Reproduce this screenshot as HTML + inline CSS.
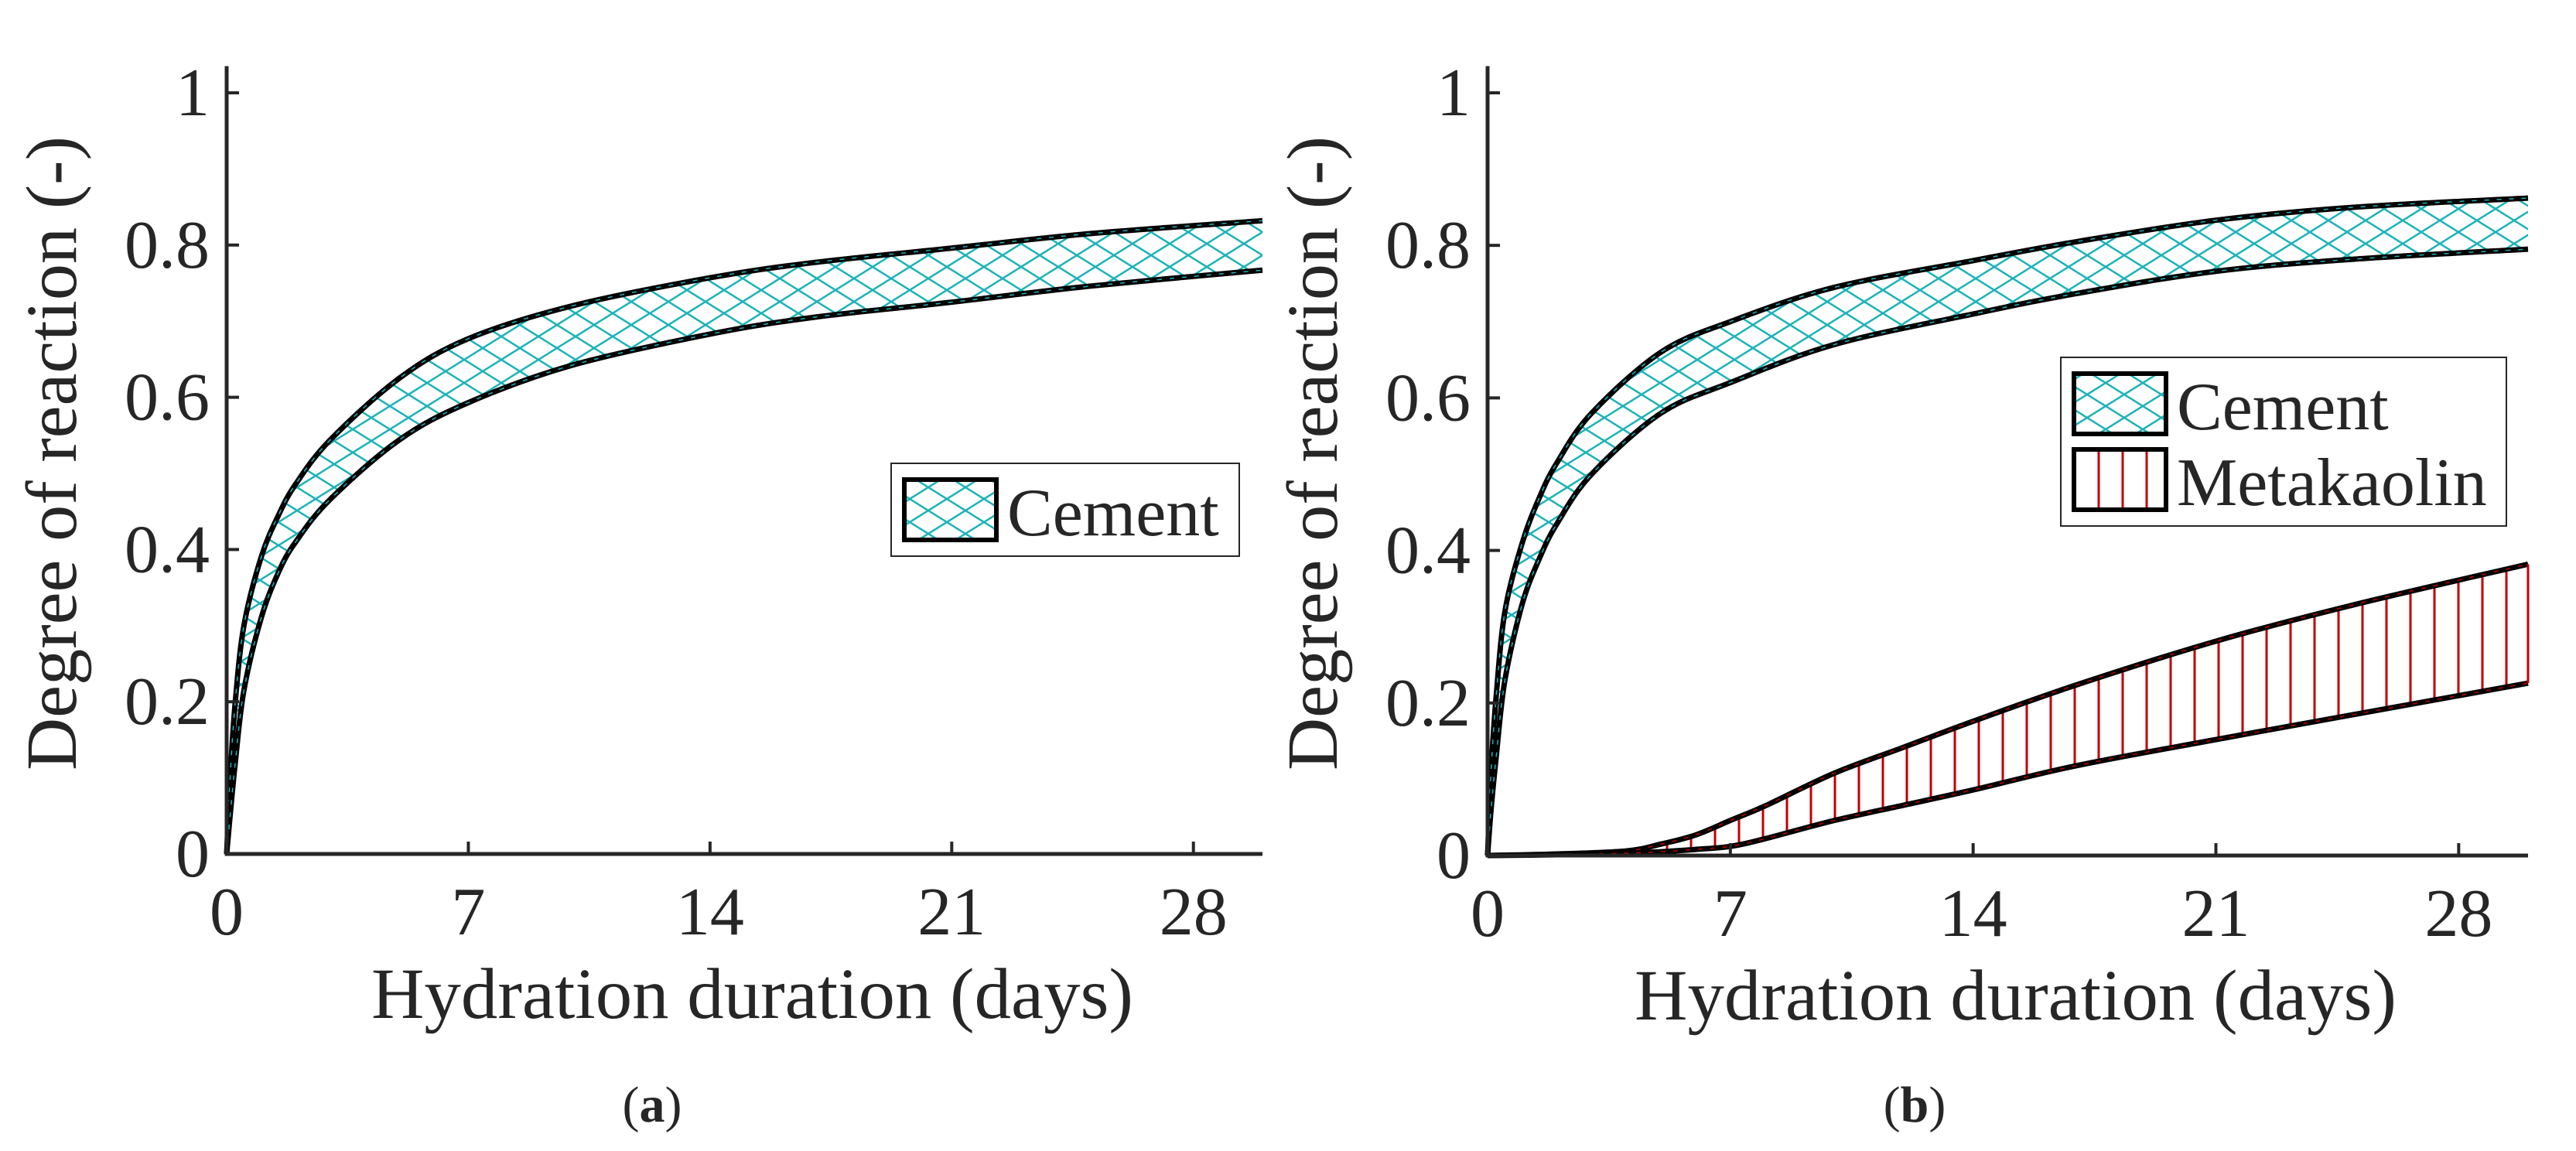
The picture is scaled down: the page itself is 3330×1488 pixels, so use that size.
<!DOCTYPE html>
<html><head><meta charset="utf-8"><style>
html,body{margin:0;padding:0;background:#fff}
svg{display:block}
text{font-family:"Liberation Serif","Times New Roman",serif;fill:#262626}
</style></head><body>
<svg id="chart" width="3330" height="1488" viewBox="0 0 3330 1488" xmlns="http://www.w3.org/2000/svg" font-family="Liberation Serif, Times New Roman, serif">
<defs>
<pattern id="cross" patternUnits="userSpaceOnUse" width="48" height="30">
<path d="M0,0L48,30M0,30L48,0" stroke="#1cb3b8" stroke-width="2.5" fill="none"/>
</pattern>
<pattern id="cross2" patternUnits="userSpaceOnUse" width="48" height="30" x="10">
<path d="M0,0L48,30M0,30L48,0" stroke="#1cb3b8" stroke-width="2.5" fill="none"/>
</pattern>
<pattern id="vert" patternUnits="userSpaceOnUse" width="31" height="40" x="1923">
<path d="M15,0L15,40" stroke="#c00000" stroke-width="3" fill="none"/>
</pattern>
</defs>
<g id="panelA"></g>
<g id="panelB"></g>
</svg>
<script>
const xTicks = [0, 7, 14, 21, 28];
const yTicks = [0, 0.2, 0.4, 0.6, 0.8, 1];
const yTickLabels = ["0", "0.2", "0.4", "0.6", "0.8", "1"];
const daysCem = [0, 0.1, 0.25, 0.5, 1, 1.5, 2, 3, 5, 7, 10, 14, 17, 21, 25, 30];
const cemAUpper = [0, 0.1, 0.2, 0.30, 0.39, 0.445, 0.486, 0.544, 0.625, 0.677, 0.72, 0.757, 0.777, 0.796, 0.815, 0.832];
const cemALower = [0, 0.05, 0.12, 0.215, 0.31, 0.37, 0.41, 0.466, 0.544, 0.593, 0.642, 0.683, 0.705, 0.725, 0.746, 0.767];
const cemBUpper = [0, 0.11, 0.21, 0.32, 0.41, 0.47, 0.515, 0.58, 0.66, 0.70, 0.745, 0.78, 0.805, 0.833, 0.85, 0.862];
const cemBLower = [0, 0.06, 0.13, 0.23, 0.33, 0.39, 0.435, 0.50, 0.58, 0.62, 0.67, 0.71, 0.737, 0.766, 0.782, 0.795];
const daysMK = [0, 2, 4, 5, 6, 7, 8, 10, 12, 14, 17, 21, 25, 30];
const mkUpper = [0, 0.002, 0.006, 0.015, 0.027, 0.046, 0.065, 0.108, 0.142, 0.176, 0.224, 0.281, 0.329, 0.382];
const mkLower = [0, 0.001, 0.003, 0.005, 0.008, 0.012, 0.022, 0.046, 0.066, 0.086, 0.118, 0.152, 0.185, 0.226];

const NS = "http://www.w3.org/2000/svg";
function mk(tag, attrs, parent) {
  const e = document.createElementNS(NS, tag);
  for (const k in attrs) e.setAttribute(k, attrs[k]);
  parent.appendChild(e);
  return e;
}
function smooth(pts) {
  let d = "M" + pts[0][0] + "," + pts[0][1];
  for (let i = 0; i < pts.length - 1; i++) {
    const p0 = pts[Math.max(0, i - 1)], p1 = pts[i], p2 = pts[i + 1], p3 = pts[Math.min(pts.length - 1, i + 2)];
    const c1 = [p1[0] + (p2[0] - p0[0]) / 6, p1[1] + (p2[1] - p0[1]) / 6];
    const c2 = [p2[0] - (p3[0] - p1[0]) / 6, p2[1] - (p3[1] - p1[1]) / 6];
    d += "C" + c1[0] + "," + c1[1] + " " + c2[0] + "," + c2[1] + " " + p2[0] + "," + p2[1];
  }
  return d;
}
function panel(g, cfg) {
  const sx = v => cfg.x0 + (v / 30) * (cfg.x1 - cfg.x0);
  const sy = v => cfg.y0 - v * cfg.ky;
  function band(xs, up, lo, fill, col, nm) {
    const pu = xs.map((d, i) => [sx(d), sy(up[i])]);
    const pl = xs.map((d, i) => [sx(d), sy(lo[i])]);
    const du = smooth(pu), dl = smooth(pl);
    const dlRev = smooth(pl.slice().reverse());
    const area = mk("path", {d: du + "L" + dlRev.slice(1) + "Z", fill: fill, stroke: "none"}, g);
    
    
    [du, dl].forEach((dd, k) => {
      const l = mk("path", {d: dd, fill: "none", stroke: "#000", "stroke-width": 7}, g);
      
      
      const l2 = mk("path", {d: dd, fill: "none", stroke: col, "stroke-width": 1.5, "stroke-dasharray": "6 10"}, g);
      
      
    });
    if (fill.indexOf("vert") >= 0) {
      const e = mk("path", {d: "M" + sx(30) + "," + sy(up[up.length - 1]) + "L" + sx(30) + "," + sy(lo[lo.length - 1]), stroke: col, "stroke-width": 3}, g);
      
      
    }
  }
  cfg.bands.forEach(b => band(b.xs, b.up, b.lo, b.fill, b.col, b.nm));
  const ax = mk("path", {d: "M" + cfg.x0 + "," + (cfg.y0 - 1.035 * cfg.ky) + "L" + cfg.x0 + "," + cfg.y0 + "L" + cfg.x1 + "," + cfg.y0, fill: "none", stroke: "#262626", "stroke-width": 5}, g);
  
  
  xTicks.forEach(t => {
    const tk = mk("path", {d: "M" + sx(t) + "," + cfg.y0 + "v-16", stroke: "#262626", "stroke-width": 4}, g);
    
    
    const tl = mk("text", {x: sx(t), y: cfg.y0 + 104, "font-size": 88, "text-anchor": "middle"}, g);
    tl.textContent = String(t);
    
    
  });
  yTicks.forEach((t, i) => {
    const tk = mk("path", {d: "M" + cfg.x0 + "," + sy(t) + "h16", stroke: "#262626", "stroke-width": 4}, g);
    
    
    const tl = mk("text", {x: cfg.x0 - 22, y: sy(t) + 29, "font-size": 88, "text-anchor": "end"}, g);
    tl.textContent = yTickLabels[i];
    
    
  });
  const xt = mk("text", {x: (cfg.x0 + cfg.x1) / 2 + 10, y: cfg.y0 + 212, "font-size": 93, "text-anchor": "middle", textLength: 985, lengthAdjust: "spacingAndGlyphs"}, g);
  xt.textContent = "Hydration duration (days)";
  
  
  const yt = mk("text", {x: 0, y: 0, "font-size": 93, "text-anchor": "middle", textLength: 820, lengthAdjust: "spacingAndGlyphs", transform: "translate(" + cfg.ylx + ",586) rotate(-90)"}, g);
  yt.textContent = "Degree of reaction (-)";
  
  
  const cap = mk("text", {x: cfg.capx, y: 1450, "font-size": 66, "text-anchor": "middle"}, g);
  cap.innerHTML = '(<tspan font-weight="bold">' + cfg.cap + '</tspan>)';
  
  
  const L = cfg.legend;
  const lg = mk("g", {}, g);
  
  
  mk("rect", {x: L.x, y: L.y, width: L.w, height: L.h, fill: "#fff", stroke: "#262626", "stroke-width": 2}, lg);
  L.items.forEach(it => {
    const sw = mk("rect", {x: L.x + 17, y: it.y, width: 119, height: 78, fill: it.fill, stroke: "#000", "stroke-width": 6}, lg);
    
    
    const tx = mk("text", {x: L.x + 150, y: it.y + 72, "font-size": 88}, lg);
    tx.textContent = it.label;
    
    
  });
}
panel(document.getElementById("panelA"), {
  x0: 293, x1: 1632, y0: 1104, ky: 984, ylx: 98, capx: 843, cap: "a",
  bands: [{xs: daysCem, up: cemAUpper, lo: cemALower, fill: "url(#cross)", col: "#1cb3b8", nm: "cement"}],
  legend: {x: 1152, y: 599, w: 450, h: 120, items: [{y: 620, fill: "url(#cross)", label: "Cement"}]}
});
panel(document.getElementById("panelB"), {
  x0: 1923, x1: 3268, y0: 1106, ky: 986, ylx: 1728, capx: 2475, cap: "b",
  bands: [
    {xs: daysCem, up: cemBUpper, lo: cemBLower, fill: "url(#cross2)", col: "#1cb3b8", nm: "cement"},
    {xs: daysMK, up: mkUpper, lo: mkLower, fill: "url(#vert)", col: "#c00000", nm: "metakaolin"}
  ],
  legend: {x: 2664, y: 462, w: 576, h: 218, items: [
    {y: 483, fill: "url(#cross2)", label: "Cement"},
    {y: 581, fill: "url(#vert)", label: "Metakaolin"}
  ]}
});
</script>
</body></html>
